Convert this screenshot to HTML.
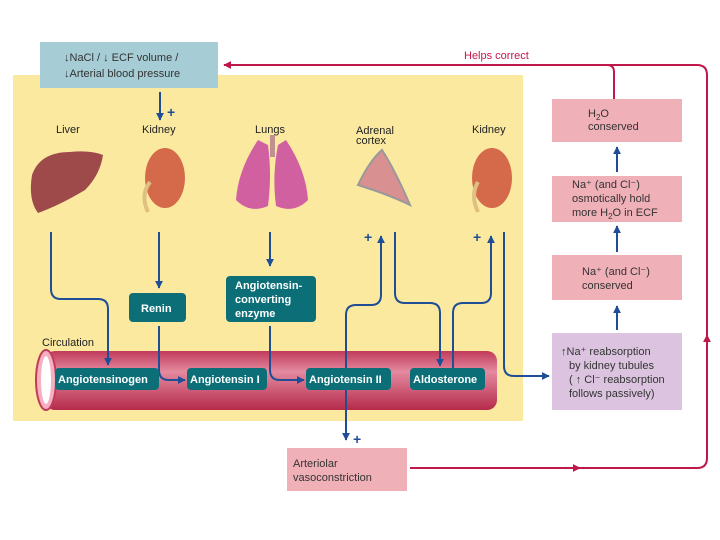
<!DOCTYPE html>
<html><head><meta charset="utf-8"><style>
html,body{margin:0;padding:0;background:#fff;}
svg{display:block;font-family:"Liberation Sans",sans-serif;}
</style></head><body>
<svg width="720" height="540" viewBox="0 0 720 540" xmlns="http://www.w3.org/2000/svg">
<defs>
<marker id="ab" viewBox="0 0 10 10" refX="9" refY="5" markerWidth="4" markerHeight="4" orient="auto"><path d="M0,0L10,5L0,10z" fill="#1f4e96"/></marker>
<marker id="ar" viewBox="0 0 10 10" refX="9" refY="5" markerWidth="4" markerHeight="4" orient="auto"><path d="M0,0L10,5L0,10z" fill="#c0184a"/></marker>
<linearGradient id="tube" x1="0" y1="0" x2="0" y2="1"><stop offset="0" stop-color="#c03a5a"/><stop offset="0.35" stop-color="#e48aa0"/><stop offset="1" stop-color="#b52a4a"/></linearGradient>
</defs>
<rect x="13" y="75" width="510" height="346" fill="#fbe9a0"/>
<g fill="none" stroke="#c0184a" stroke-width="2">
<path d="M614,100 V72 Q614,65 607,65 H224" marker-end="url(#ar)"/>
<path d="M607,65 H697 Q707,65 707,75 V458 Q707,468 697,468 H410"/>
<path d="M707,360 V335" marker-end="url(#ar)"/>
<path d="M560,468 H580" marker-end="url(#ar)"/>
</g>
<text x="464" y="59" font-size="11" fill="#c0184a">Helps correct</text>
<rect x="40" y="42" width="178" height="46" fill="#a6ccd6"/>
<text font-size="11" fill="#333"><tspan x="64" y="61">↓NaCl / ↓ ECF volume /</tspan><tspan x="64" y="77">↓Arterial blood pressure</tspan></text>
<g font-size="11" fill="#222">
<text x="56" y="133">Liver</text><text x="142" y="133">Kidney</text><text x="255" y="133">Lungs</text>
<text x="356" y="134">Adrenal</text><text x="356" y="144">cortex</text><text x="472" y="133">Kidney</text>
</g>
<path d="M32,175 Q40,152 70,152 Q90,150 103,155 Q100,175 85,190 Q60,205 38,213 Q28,200 32,175z" fill="#9e4a4a"/>
<ellipse cx="165" cy="178" rx="20" ry="30" fill="#d46a4a"/><path d="M150,182 Q140,195 148,212" stroke="#e0c080" stroke-width="4" fill="none"/>
<path d="M258,140 Q238,170 236,200 Q250,214 268,206 Q272,175 268,145z" fill="#d060a0"/>
<path d="M286,140 Q306,170 308,200 Q294,214 276,206 Q272,175 278,145z" fill="#d060a0"/>
<rect x="270" y="135" width="5" height="22" fill="#c09090"/>
<path d="M358,185 Q370,160 382,150 Q395,170 410,205 Q390,195 358,185z" fill="#d89090" stroke="#999" stroke-width="2"/>
<ellipse cx="492" cy="178" rx="20" ry="30" fill="#d46a4a"/><path d="M478,182 Q470,195 478,212" stroke="#e0c080" stroke-width="4" fill="none"/>
<rect x="45" y="351" width="452" height="59" rx="10" fill="url(#tube)"/>
<ellipse cx="46" cy="380" rx="10" ry="30" fill="#f4b0c0" stroke="#c03a5a" stroke-width="2"/>
<ellipse cx="46" cy="380" rx="5" ry="24" fill="#fff"/>
<text x="42" y="346" font-size="11" fill="#222">Circulation</text>
<g fill="none" stroke="#1f4e96" stroke-width="2">
<path d="M160,92 V120" marker-end="url(#ab)"/>
<path d="M51,232 V289 Q51,299 61,299 H98 Q108,299 108,309 V365" marker-end="url(#ab)"/>
<path d="M159,232 V288" marker-end="url(#ab)"/>
<path d="M159,326 V370 Q159,380 169,380 H185" marker-end="url(#ab)"/>
<path d="M270,232 V266" marker-end="url(#ab)"/>
<path d="M270,326 V370 Q270,380 280,380 H304" marker-end="url(#ab)"/>
<path d="M346,378 V315 Q346,305 356,305 H371 Q381,305 381,295 V236" marker-end="url(#ab)"/>
<path d="M346,378 V440" marker-end="url(#ab)"/>
<path d="M395,232 V293 Q395,303 405,303 H430 Q440,303 440,313 V366" marker-end="url(#ab)"/>
<path d="M453,368 V313 Q453,303 463,303 H481 Q491,303 491,293 V236" marker-end="url(#ab)"/>
<path d="M504,232 V366 Q504,376 514,376 H549" marker-end="url(#ab)"/>
<path d="M617,330 V306" marker-end="url(#ab)"/>
<path d="M617,252 V226" marker-end="url(#ab)"/>
<path d="M617,172 V147" marker-end="url(#ab)"/>
</g>
<g font-size="14" font-weight="bold" fill="#1f4e96">
<text x="167" y="117">+</text><text x="364" y="242">+</text><text x="473" y="242">+</text><text x="353" y="444">+</text>
</g>
<g fill="#0c6f78"><rect x="129" y="293" width="57" height="29" rx="4"/><rect x="226" y="276" width="90" height="46" rx="4"/>
<rect x="55" y="368" width="104" height="22" rx="4"/><rect x="187" y="368" width="80" height="22" rx="4"/><rect x="306" y="368" width="85" height="22" rx="4"/><rect x="410" y="368" width="75" height="22" rx="4"/></g>
<g font-size="11" font-weight="bold" fill="#fff">
<text x="141" y="312">Renin</text>
<text x="235" y="289">Angiotensin-</text><text x="235" y="303">converting</text><text x="235" y="317">enzyme</text>
<text x="58" y="383">Angiotensinogen</text><text x="190" y="383">Angiotensin I</text><text x="309" y="383">Angiotensin II</text><text x="413" y="383">Aldosterone</text>
</g>
<g fill="#f0b0b8"><rect x="552" y="99" width="130" height="43"/><rect x="552" y="176" width="130" height="46"/><rect x="552" y="255" width="130" height="45"/><rect x="287" y="448" width="120" height="43"/></g>
<rect x="552" y="333" width="130" height="77" fill="#dcc4e0"/>
<g font-size="11" fill="#333">
<text x="588" y="117">H<tspan font-size="8" dy="3">2</tspan><tspan dy="-3">O</tspan></text><text x="588" y="130">conserved</text>
<text x="572" y="188">Na⁺ (and Cl⁻)</text><text x="572" y="202">osmotically hold</text><text x="572" y="216">more H<tspan font-size="8" dy="3">2</tspan><tspan dy="-3">O in ECF</tspan></text>
<text x="582" y="275">Na⁺ (and Cl⁻)</text><text x="582" y="289">conserved</text>
<text x="561" y="355">↑Na⁺ reabsorption</text><text x="569" y="369">by kidney tubules</text><text x="569" y="383">( ↑ Cl⁻ reabsorption</text><text x="569" y="397">follows passively)</text>
<text x="293" y="467">Arteriolar</text><text x="293" y="481">vasoconstriction</text>
</g>
</svg>
</body></html>
